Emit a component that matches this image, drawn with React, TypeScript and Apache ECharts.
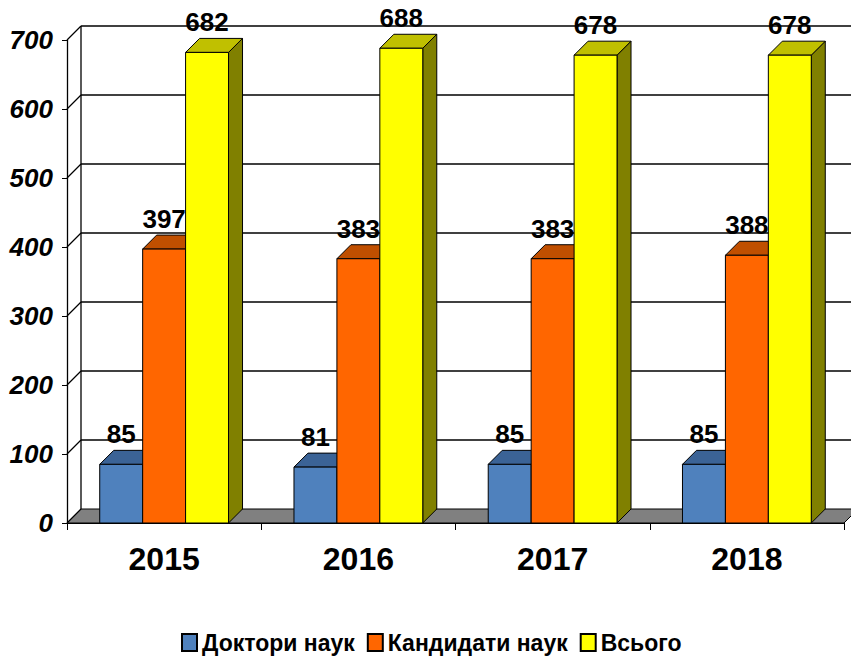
import React, { useEffect, useRef } from "react";
import * as echarts from "echarts";

const CATEGORIES = ["2015", "2016", "2017", "2018"];
const SERIES_NAMES = ["Доктори наук", "Кандидати наук", "Всього"];
const DOCTORS = [85, 81, 85, 85];
const CANDIDATES = [397, 383, 383, 388];
const TOTAL = [682, 688, 678, 678];
const Y_TICKS = [0, 100, 200, 300, 400, 500, 600, 700];

const FRONT = ["#4F81BD", "#FF6600", "#FFFF00"];
const TOP = ["#3B6396", "#C04F00", "#C0C000"];
const SIDE = ["#2A4466", "#803300", "#808000"];
const DEPTH = 14;
const BAR_FRAC = 0.221;
const FONT = '"Liberation Sans", Arial, sans-serif';

export default function App() {
  const ref = useRef<HTMLDivElement>(null);
  useEffect(() => {
    document.body.style.margin = "0";
    const chart = echarts.init(ref.current!, null, { renderer: "svg" });
    const allValues = [DOCTORS, CANDIDATES, TOTAL];

    const makeBar = (s: number) => (params: any, api: any) => {
      const cat = api.value(0);
      const val = api.value(1);
      const [cx, yTop] = api.coord([cat, val]);
      const y0 = api.coord([cat, 0])[1];
      const band = api.size([1, 0])[0];
      const w = band * BAR_FRAC;
      const x = cx + (s - 1.5) * w;
      const d = DEPTH;
      const stroke = { stroke: "#000", lineWidth: 1 };
      return {
        type: "group",
        children: [
          {
            type: "polygon",
            shape: { points: [[x + w, yTop], [x + w + d, yTop - d], [x + w + d, y0 - d], [x + w, y0]] },
            style: { fill: SIDE[s], ...stroke },
          },
          {
            type: "polygon",
            shape: { points: [[x, yTop], [x + w, yTop], [x + w + d, yTop - d], [x + d, yTop - d]] },
            style: { fill: TOP[s], ...stroke },
          },
          {
            type: "rect",
            shape: { x, y: yTop, width: w, height: y0 - yTop },
            style: { fill: FRONT[s], ...stroke },
          },
          {
            type: "text",
            style: {
              text: String(val),
              x: x + w / 2,
              y: yTop - d - 3,
              align: "center",
              verticalAlign: "bottom",
              font: `bold 26px ${FONT}`,
              fill: "#000",
            },
          },
        ],
      };
    };

    const renderBackground = (params: any, api: any) => {
      const cs = params.coordSys;
      const left = cs.x;
      const right = cs.x + cs.width;
      const bottom = cs.y + cs.height;
      const top = cs.y;
      const W = api.getWidth();
      const d = DEPTH;
      const line = { stroke: "#000", lineWidth: 1.3 };
      const children: any[] = [
        {
          type: "polygon",
          shape: { points: [[left, bottom], [right, bottom], [right + d, bottom - d], [left + d, bottom - d]] },
          style: { fill: "#808080", stroke: "#000", lineWidth: 1 },
        },
        {
          type: "line",
          shape: { x1: left + d, y1: bottom - d, x2: left + d, y2: top - d },
          style: line,
        },
      ];
      Y_TICKS.forEach((t) => {
        const y = api.coord([0, t])[1];
        children.push({
          type: "line",
          shape: { x1: left, y1: y, x2: left + d, y2: y - d },
          style: line,
        });
        if (t > 0) {
          children.push({
            type: "line",
            shape: { x1: left + d, y1: y - d, x2: W, y2: y - d },
            style: line,
          });
        }
      });
      return { type: "group", children };
    };

    chart.setOption({
      animation: false,
      backgroundColor: "#fff",
      grid: { left: 67, right: 7, top: 40, bottom: 133, containLabel: false },
      xAxis: {
        type: "category",
        data: CATEGORIES,
        axisLine: { lineStyle: { color: "#000", width: 1 } },
        axisTick: { show: true, length: 7, lineStyle: { color: "#000" } },
        axisLabel: {
          margin: 20,
          color: "#000",
          fontSize: 32,
          fontWeight: "bold",
          fontFamily: FONT,
        },
      },
      yAxis: {
        type: "value",
        min: 0,
        max: 700,
        interval: 100,
        axisLine: { show: true, lineStyle: { color: "#000", width: 1.3 } },
        axisTick: { show: true, length: 5, lineStyle: { color: "#000" } },
        splitLine: { show: false },
        axisLabel: {
          margin: 14,
          color: "#000",
          fontSize: 26,
          fontWeight: "bold",
          fontStyle: "italic",
          fontFamily: FONT,
        },
      },
      legend: {
        data: SERIES_NAMES,
        left: 176,
        top: 626,
        icon: "rect",
        itemWidth: 15,
        itemHeight: 17,
        itemGap: 12,
        textStyle: { color: "#000", fontSize: 23, fontWeight: "bold", fontFamily: FONT },
      },
      series: [
        {
          type: "custom",
          name: "bg",
          silent: true,
          z: 1,
          data: [[0, 0]],
          renderItem: renderBackground,
        },
        ...SERIES_NAMES.map((name, s) => ({
          type: "custom",
          name,
          z: 2 + s,
          itemStyle: { color: FRONT[s], borderColor: "#000", borderWidth: 1 },
          data: CATEGORIES.map((_, i) => [i, allValues[s][i]]),
          encode: { x: 0, y: 1 },
          renderItem: makeBar(s),
        })),
      ],
    });
    return () => chart.dispose();
  }, []);
  return <div ref={ref} style={{ width: 851, height: 656 }} />;
}
